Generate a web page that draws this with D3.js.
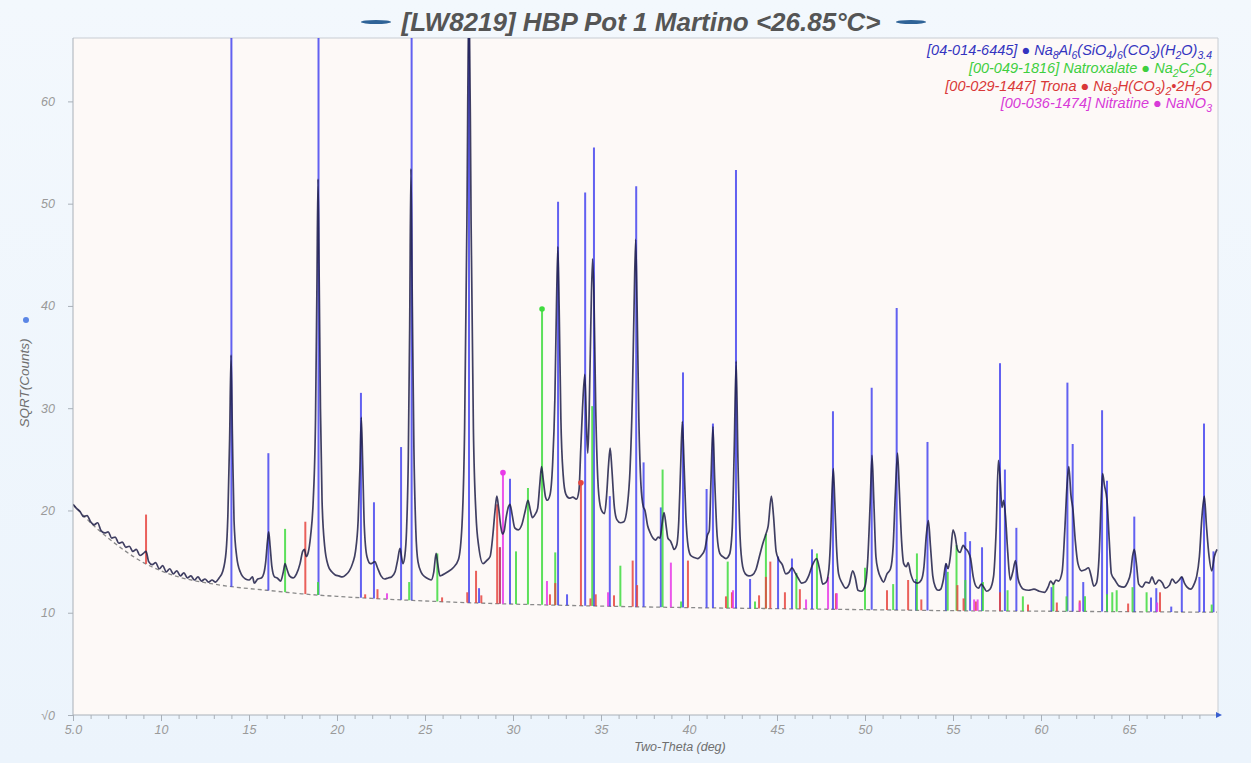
<!DOCTYPE html>
<html><head><meta charset="utf-8">
<script src="https://cdn.jsdelivr.net/npm/d3@7"></script>
<style>
html,body{margin:0;padding:0;background:#eef5fc;}
svg{display:block;font-family:"Liberation Sans",Arial,sans-serif;}
</style></head><body>
<svg id="chart" width="1251" height="763"></svg>
<script>
// ---------------- DATA ----------------
const titleText = "[LW8219] HBP Pot 1 Martino <26.85°C>";
const xLabel = "Two-Theta (deg)";
const yLabel = "SQRT(Counts)";
const xTickValues = [5,10,15,20,25,30,35,40,45,50,55,60,65];
const xTickLabels = ["5.0","10","15","20","25","30","35","40","45","50","55","60","65"];
const yTickValues = [0,10,20,30,40,50,60];
const yTickLabels = ["\u221A0","10","20","30","40","50","60"];
const xDomain = [5,70];
const yDomain = [0,66.2];

// observed pattern [2theta, sqrt(counts)]
const observed = [
[5.0,20.6],[5.2,20.2],[5.4,19.9],[5.6,19.4],[5.8,19.5],[6.0,18.9],[6.2,18.6],[6.4,18.8],[6.6,18.0],[6.8,17.8],
[7.0,17.9],[7.2,17.3],[7.4,17.4],[7.6,16.8],[7.8,16.9],[8.0,16.4],[8.2,16.5],[8.4,16.0],[8.6,16.2],[8.8,15.6],
[9.0,15.8],[9.15,16.0],[9.3,15.0],[9.5,14.7],[9.7,14.9],[9.9,14.3],[10.1,14.6],[10.3,14.0],[10.5,14.3],[10.7,13.8],
[10.9,14.1],[11.1,13.6],[11.3,13.9],[11.5,13.4],[11.7,13.6],[11.9,13.2],[12.1,13.5],[12.3,13.1],[12.5,13.3],[12.7,13.0],
[12.9,13.2],[13.1,13.0],[13.3,13.4],[13.5,14.0],[13.7,16.0],[13.8,19.5],[13.9,27],[13.98,35.2],[14.06,27],[14.15,19.0],
[14.3,15.5],[14.5,14.0],[14.8,13.3],[15.0,13.2],[15.2,13.5],[15.3,12.9],[15.5,13.3],[15.7,13.4],[15.85,13.9],[15.95,15.0],
[16.05,17.0],[16.12,17.9],[16.2,16.5],[16.3,14.5],[16.45,13.5],[16.6,13.4],[16.8,13.1],[16.95,14.0],[17.05,14.8],[17.15,14.3],
[17.3,13.6],[17.5,13.4],[17.7,13.8],[17.9,14.8],[18.05,16.0],[18.15,16.2],[18.25,15.5],[18.35,15.8],[18.5,17.5],[18.65,21.0],
[18.78,29],[18.86,42],[18.92,52.4],[18.98,44],[19.06,30],[19.15,21],[19.3,16.5],[19.5,14.6],[19.7,14.0],[19.9,13.7],
[20.1,13.6],[20.3,13.5],[20.5,13.7],[20.7,14.1],[20.9,14.9],[21.05,16.0],[21.2,19.0],[21.3,24.0],[21.38,29.1],[21.46,24.5],
[21.55,18.5],[21.7,15.5],[21.9,14.8],[22.05,14.9],[22.15,15.0],[22.3,14.4],[22.5,13.6],[22.7,13.3],[22.9,13.4],[23.1,13.5],
[23.3,14.0],[23.45,15.2],[23.58,16.3],[23.68,15.3],[23.75,14.8],[23.85,15.5],[23.95,18.0],[24.05,25],[24.13,38],[24.2,53.4],
[24.28,40],[24.37,26],[24.48,18],[24.6,15.0],[24.8,13.9],[25.0,13.5],[25.2,13.3],[25.35,13.2],[25.5,14.0],[25.63,15.8],
[25.72,14.8],[25.85,13.6],[26.0,13.7],[26.3,14.0],[26.6,14.4],[26.9,15.2],[27.1,18.5],[27.25,28],[27.38,48],[27.5,72],
[27.62,48],[27.75,28],[27.9,19.5],[28.05,16.5],[28.3,14.8],[28.5,15.1],[28.7,15.5],[28.85,17.5],[28.98,20.0],[29.08,21.4],
[29.18,20.3],[29.3,18.5],[29.4,17.7],[29.5,18.0],[29.6,19.2],[29.75,20.4],[29.83,20.6],[29.95,19.6],[30.1,18.3],[30.3,18.1],
[30.5,18.6],[30.7,20.0],[30.85,21.0],[31.0,19.9],[31.1,19.3],[31.25,19.6],[31.4,20.2],[31.52,22.5],[31.62,24.3],[31.72,23.0],
[31.85,21.3],[31.95,21.0],[32.1,21.5],[32.25,24.5],[32.38,31],[32.47,40],[32.55,45.8],[32.63,39],[32.72,29],[32.85,23.5],
[33.0,21.6],[33.2,21.2],[33.4,21.3],[33.6,21.1],[33.75,22.0],[33.85,26.0],[33.95,30.0],[34.08,33.3],[34.18,28.0],[34.25,25.6],
[34.32,29.0],[34.42,38.0],[34.52,44.6],[34.6,41.0],[34.7,30.0],[34.82,23.0],[34.95,20.5],[35.1,19.8],[35.2,19.7],[35.32,21.5],
[35.43,24.5],[35.52,26.1],[35.62,24.0],[35.75,20.5],[35.9,19.1],[36.1,18.8],[36.3,18.9],[36.5,20.5],[36.65,24.0],[36.78,31.0],
[36.88,40.0],[36.97,46.5],[37.05,40.0],[37.15,29.0],[37.27,22.5],[37.4,20.4],[37.5,20.0],[37.65,18.5],[37.8,17.8],[37.95,17.3],
[38.1,17.1],[38.25,17.4],[38.35,17.3],[38.48,18.8],[38.58,19.8],[38.7,18.5],[38.8,17.3],[38.95,17.0],[39.05,16.6],[39.15,16.2],
[39.3,16.6],[39.42,19.0],[39.52,24.0],[39.62,28.7],[39.72,24.5],[39.82,19.5],[39.95,16.5],[40.1,15.6],[40.3,15.4],[40.5,15.3],
[40.7,15.6],[40.9,16.2],[41.05,17.6],[41.15,18.0],[41.25,23.0],[41.36,28.2],[41.46,23.0],[41.6,17.5],[41.75,15.8],[41.9,15.5],
[42.1,15.3],[42.3,15.7],[42.45,18.0],[42.57,26.0],[42.68,34.6],[42.78,25.0],[42.9,17.5],[43.05,14.5],[43.2,13.8],[43.4,13.6],
[43.6,13.7],[43.8,14.2],[44.0,15.5],[44.2,16.8],[44.37,17.7],[44.5,18.5],[44.68,21.4],[44.8,19.5],[44.95,16.0],[45.1,15.2],
[45.3,14.7],[45.5,13.8],[45.7,14.0],[45.85,14.4],[46.0,14.0],[46.2,13.4],[46.4,12.9],[46.6,13.0],[46.8,13.6],[47.0,14.6],
[47.25,15.3],[47.45,14.0],[47.6,12.8],[47.8,13.0],[47.95,14.3],[48.05,17.5],[48.12,21.5],[48.2,24.1],[48.28,21.0],[48.38,16.5],
[48.5,13.8],[48.7,12.9],[48.9,12.4],[49.1,12.8],[49.3,14.1],[49.45,13.4],[49.6,12.2],[49.8,12.1],[50.0,12.6],[50.15,15.0],
[50.3,21.0],[50.4,25.4],[50.5,21.0],[50.62,15.5],[50.75,14.1],[50.9,13.4],[51.05,13.0],[51.25,13.8],[51.45,14.3],[51.6,16.5],
[51.72,21.5],[51.85,25.6],[51.95,22.0],[52.08,17.0],[52.2,14.8],[52.35,14.5],[52.45,14.9],[52.6,13.8],[52.8,13.0],[53.0,12.9],
[53.2,13.2],[53.35,14.5],[53.48,17.5],[53.6,19.0],[53.72,16.5],[53.85,13.6],[54.0,12.5],[54.15,12.2],[54.3,12.3],[54.45,13.2],
[54.6,14.8],[54.72,14.3],[54.85,15.5],[55.0,18.1],[55.12,17.5],[55.25,16.2],[55.4,15.9],[55.58,16.6],[55.7,16.3],[55.85,16.0],
[56.0,15.3],[56.15,13.5],[56.3,12.6],[56.45,12.4],[56.6,12.8],[56.75,12.5],[56.9,12.1],[57.1,12.3],[57.3,13.5],[57.45,18.0],
[57.58,24.9],[57.68,23.0],[57.78,20.3],[57.88,21.0],[57.98,19.5],[58.1,16.2],[58.25,13.2],[58.4,14.0],[58.55,15.1],[58.7,13.3],
[58.85,12.6],[59.0,12.3],[59.3,12.2],[59.6,12.3],[59.9,12.1],[60.2,12.0],[60.4,12.5],[60.55,13.1],[60.7,12.8],[60.85,13.2],
[61.0,13.1],[61.2,14.0],[61.35,18.0],[61.48,22.5],[61.58,24.3],[61.7,21.5],[61.82,20.0],[61.95,17.0],[62.1,14.8],[62.3,14.1],
[62.5,14.2],[62.7,14.4],[62.85,13.6],[63.0,12.6],[63.15,12.9],[63.3,15.5],[63.42,21.0],[63.5,23.6],[63.6,22.5],[63.75,21.0],
[63.88,17.0],[64.0,13.8],[64.2,13.2],[64.45,12.6],[64.7,12.5],[64.9,12.9],[65.1,14.0],[65.2,15.5],[65.3,16.2],[65.42,14.8],
[65.55,12.8],[65.75,12.5],[65.95,13.0],[66.15,12.9],[66.3,13.5],[66.5,12.8],[66.7,13.2],[66.9,12.9],[67.05,12.4],[67.3,12.7],
[67.45,13.3],[67.65,12.9],[67.85,13.2],[68.0,13.5],[68.15,12.9],[68.3,12.5],[68.5,12.3],[68.7,12.8],[68.85,13.6],[69.0,15.5],
[69.15,19.5],[69.28,21.4],[69.4,18.5],[69.55,15.5],[69.7,14.1],[69.85,15.5],[70.0,16.2]
];

// fitted background [2theta, value]
const background = [
[5,20.6],[6,18.8],[7,17.3],[8,16.0],[9,14.9],[10,14.1],[11,13.5],[12,13.1],[13,12.8],[14,12.55],
[16,12.2],[18,11.85],[20,11.6],[22,11.4],[25,11.15],[28,10.95],[31,10.8],[35,10.65],[40,10.5],[45,10.4],
[50,10.3],[55,10.2],[60,10.15],[65,10.1],[70,10.05]
];

// reference sticks [2theta, top value]; values above the frame are clipped
const stickBlue = [
[14.0,80],[16.1,25.6],[18.95,80],[21.36,31.5],[22.1,20.8],[23.64,26.2],[24.24,80],[27.5,80],[28.07,12.4],[29.26,16.4],
[29.83,23.1],[32.56,50.2],[33.07,11.8],[34.1,51.1],[34.6,55.5],[35.5,21.4],[37.0,51.7],[37.42,24.7],[38.4,20.3],[39.66,33.5],
[41.0,22.1],[41.36,28.5],[42.67,53.3],[43.47,13.3],[45.06,15.5],[45.85,15.3],[46.99,16.2],[48.18,29.7],[50.38,32.0],[51.8,39.8],
[52.9,13.3],[53.55,26.7],[54.6,14.8],[55.7,17.9],[55.97,17.0],[56.65,16.4],[57.67,34.4],[57.95,24.0],[58.6,18.3],[60.6,12.5],
[61.5,32.5],[61.8,26.5],[62.4,13.0],[63.47,29.8],[63.75,22.9],[65.3,19.4],[66.25,11.5],[66.55,12.4],[67.4,10.6],[68.0,13.5],
[69.0,13.5],[69.26,28.5],[69.8,16.0]
];
const stickGreen = [
[17.05,18.2],[18.92,13.0],[24.1,13.0],[25.7,15.8],[30.17,16.0],[30.85,22.2],[31.65,39.7],[32.4,15.9],[34.5,30.2],[36.1,14.6],
[38.5,24.0],[39.55,11.1],[42.2,15.0],[43.75,11.1],[44.37,17.7],[46.1,13.9],[47.27,15.8],[50.0,14.4],[51.6,12.8],[52.95,15.8],
[54.7,14.0],[55.2,16.6],[55.7,13.2],[56.7,13.0],[58.1,12.2],[58.97,11.6],[60.7,12.8],[61.45,11.6],[62.5,11.6],[63.75,11.8],
[64.05,12.0],[64.3,12.2],[65.2,12.5],[66.0,12.0],[69.7,10.8]
];
const stickRed = [
[9.15,19.6],[18.2,18.9],[21.6,11.8],[22.3,12.3],[25.97,11.5],[27.4,12.0],[27.9,14.1],[28.2,11.7],[29.1,20.6],[29.25,16.4],
[32.1,11.8],[32.4,12.9],[33.86,22.7],[34.4,11.4],[34.7,11.8],[35.74,11.7],[36.8,15.1],[37.05,12.7],[39.94,15.1],[42.1,11.6],
[42.44,12.0],[43.98,11.7],[44.37,13.5],[44.62,15.0],[45.45,12.0],[46.3,12.3],[48.35,11.9],[51.25,12.2],[52.45,13.2],[53.2,11.3],
[55.25,12.7],[55.6,11.4],[56.3,11.1],[57.67,12.0],[59.26,10.8],[60.9,11.0],[62.2,11.2],[64.95,10.9],[66.76,12.0]
];
const stickMagenta = [
[22.84,11.9],[29.43,23.7],[31.93,13.1],[35.4,12.0],[38.97,14.9],[42.5,12.2],[46.65,11.3],[47.9,13.5],[48.4,11.9],[56.2,11.3],
[56.4,11.3],[62.2,11.0],[66.6,11.0]
];

const phaseSticks = [stickBlue, stickGreen, stickRed, stickMagenta];
const phaseColors = ["#3b3bef","#3fdc3f","#e6453f","#e83ae8"];
const legendColors = ["#3434c0","#3fcf3f","#d93838","#d83ad8"];
// legend: segments [text, isSubscript]
const legendLines = [
  [["[04-014-6445]  \u25CF Na",0],["8",1],["Al",0],["6",1],["(SiO",0],["4",1],[")",0],["6",1],["(CO",0],["3",1],[")(H",0],["2",1],["O)",0],["3.4",1]],
  [["[00-049-1816] Natroxalate \u25CF Na",0],["2",1],["C",0],["2",1],["O",0],["4",1]],
  [["[00-029-1447] Trona \u25CF Na",0],["3",1],["H(CO",0],["3",1],[")",0],["2",1],["\u20222H",0],["2",1],["O",0]],
  [["[00-036-1474] Nitratine \u25CF NaNO",0],["3",1]]
];

// ---------------- DRAW ----------------
const svg = d3.select("#chart");
const W = 1251, H = 763;
const m = {left:73, right:1218, top:38, bottom:715};

const defs = svg.append("defs");
const bgGrad = defs.append("linearGradient").attr("id","pageGrad").attr("x1",0).attr("y1",0).attr("x2",0).attr("y2",1);
bgGrad.append("stop").attr("offset","0%").attr("stop-color","#f3f8fd");
bgGrad.append("stop").attr("offset","100%").attr("stop-color","#ecf4fc");
svg.append("rect").attr("width",W).attr("height",H).attr("fill","url(#pageGrad)");

defs.append("clipPath").attr("id","plotClip").append("rect")
  .attr("x",m.left).attr("y",m.top).attr("width",m.right-m.left).attr("height",m.bottom-m.top);

const x = d3.scaleLinear().domain(xDomain).range([m.left, 1217]);
const y = d3.scaleLinear().domain(yDomain).range([m.bottom, m.top]);
const bgScale = d3.scaleLinear().domain(background.map(d=>d[0])).range(background.map(d=>d[1]));

// plot area
svg.append("rect").attr("x",m.left).attr("y",m.top).attr("width",m.right-m.left).attr("height",m.bottom-m.top)
  .attr("fill","#fdf9f7");
svg.append("line").attr("x1",m.left).attr("x2",m.right).attr("y1",m.top).attr("y2",m.top).attr("stroke","#c8cdd3").attr("stroke-width",1);
svg.append("line").attr("x1",m.right).attr("x2",m.right).attr("y1",m.top).attr("y2",m.bottom).attr("stroke","#c8cdd3").attr("stroke-width",1);

const plot = svg.append("g").attr("clip-path","url(#plotClip)");

// background dashed
plot.append("path").datum(background)
  .attr("d", d3.line().x(d=>x(d[0])).y(d=>y(d[1])).curve(d3.curveMonotoneX))
  .attr("fill","none").attr("stroke","#8a8a8a").attr("stroke-width",1.3).attr("stroke-dasharray","4,3");

// sticks
phaseSticks.forEach((arr,i)=>{
  plot.append("g").selectAll("line").data(arr).join("line")
    .attr("x1",d=>x(d[0])).attr("x2",d=>x(d[0]))
    .attr("y1",d=>y(bgScale(d[0]))).attr("y2",d=>y(d[1]))
    .attr("stroke",phaseColors[i]).attr("stroke-width",2).attr("stroke-opacity", i===0?0.8:0.85);
});

// observed
plot.append("path").datum(observed)
  .attr("d", d3.line().x(d=>x(d[0])).y(d=>y(d[1])).curve(d3.curveMonotoneX))
  .attr("fill","none").attr("stroke","#1f1f48").attr("stroke-width",1.7).attr("stroke-opacity",0.85)
  .attr("stroke-linejoin","round");

// strongest-line markers (only if visible)
phaseSticks.forEach((arr,i)=>{
  const top = d3.greatest(arr, d=>d[1]);
  if (top[1] <= yDomain[1]) {
    svg.append("circle").attr("cx",x(top[0])).attr("cy",y(top[1])).attr("r",2.8).attr("fill",phaseColors[i]);
  }
});

// axes
const axisColor = "#a9b0b8";
const xAxisMinor = d3.axisBottom(x).tickValues(d3.range(5,70,1)).tickSize(4).tickFormat("");
svg.append("g").attr("transform",`translate(0,${m.bottom})`).call(xAxisMinor)
  .call(g=>g.select(".domain").remove())
  .call(g=>g.selectAll("line").attr("stroke",axisColor));
const xAxis = d3.axisBottom(x).tickValues(xTickValues).tickFormat((d,i)=>xTickLabels[i]).tickSize(6).tickPadding(4);
svg.append("g").attr("transform",`translate(0,${m.bottom})`).call(xAxis)
  .call(g=>g.select(".domain").attr("stroke",axisColor).attr("d",`M${m.left},0H${m.right}`))
  .call(g=>g.selectAll("line").attr("stroke",axisColor))
  .call(g=>g.selectAll("text").attr("fill","#9a9a9a").attr("font-size",12.5).attr("font-style","italic"));

const yAxis = d3.axisLeft(y).tickValues(yTickValues).tickFormat((d,i)=>yTickLabels[i]).tickSize(5).tickPadding(13);
svg.append("g").attr("transform",`translate(${m.left},0)`).call(yAxis)
  .call(g=>g.select(".domain").attr("stroke",axisColor).attr("d",`M0,${m.bottom}V${m.top}`))
  .call(g=>g.selectAll("line").attr("stroke",axisColor))
  .call(g=>g.selectAll("text").attr("fill","#9a9a9a").attr("font-size",12.5).attr("font-style","italic"));

// axis arrow
svg.append("path").attr("d",`M${m.right-2},${m.bottom-3}L${m.right+4},${m.bottom}L${m.right-2},${m.bottom+3}Z`).attr("fill","#3a5fd0");

// axis labels
svg.append("text").attr("x",680).attr("y",751).attr("text-anchor","middle")
  .attr("font-size",12.5).attr("font-style","italic").attr("fill","#6f6f6f").text(xLabel);
svg.append("text").attr("transform","translate(29,383) rotate(-90)").attr("text-anchor","middle")
  .attr("font-size",13.5).attr("font-style","italic").attr("fill","#6f6f6f").text(yLabel);
svg.append("circle").attr("cx",26).attr("cy",320).attr("r",3).attr("fill","#5b86e6");

// title
svg.append("text").attr("x",641).attr("y",31).attr("text-anchor","middle")
  .attr("font-size",26).attr("font-weight","bold").attr("font-style","italic").attr("fill","#555")
  .text(titleText);
[376, 911].forEach(cx=>{
  svg.append("ellipse").attr("cx",cx).attr("cy",22).attr("rx",15).attr("ry",2).attr("fill","#2f6397");
});

// legend
const legY = [55,73,91,108];
legendLines.forEach((segs,i)=>{
  const t = svg.append("text").attr("x",1212).attr("y",legY[i]).attr("text-anchor","end")
    .attr("font-size",14.5).attr("font-style","italic").attr("fill",legendColors[i]);
  let shifted = false;
  segs.forEach(([s,sub])=>{
    const ts = t.append("tspan").text(s);
    if (sub && !shifted) { ts.attr("dy",3.5).attr("font-size",10.5); shifted = true; }
    else if (sub) { ts.attr("font-size",10.5); }
    else if (!sub && shifted) { ts.attr("dy",-3.5); shifted = false; }
  });
});
</script>
</body></html>
